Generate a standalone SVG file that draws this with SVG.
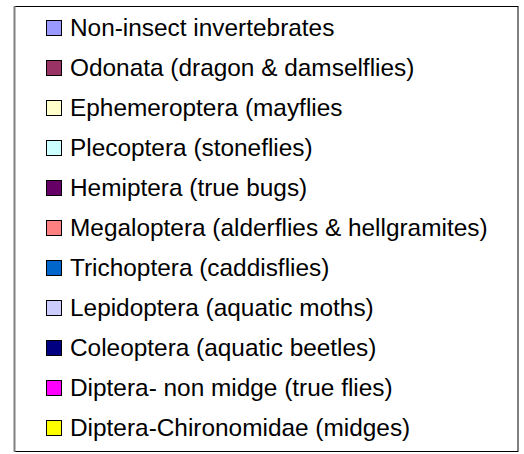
<svg xmlns="http://www.w3.org/2000/svg" width="524" height="454" viewBox="0 0 524 454">
<style>
.sw{stroke:#000;stroke-width:1}
.t{font-family:"Liberation Sans",Arial,sans-serif;font-size:24.4px;fill:#000}
</style>
<rect width="524" height="454" fill="#fff"/>
<rect x="14.5" y="6.5" width="503.5" height="445" fill="#fff" stroke="#000" stroke-width="1"/>
<line x1="14.5" y1="6" x2="14.5" y2="452" stroke="#808080" stroke-width="2"/>
<g id="n1"><rect class="sw" x="46.5" y="20.5" width="15" height="15" fill="#9999FF"/><text class="t" x="70" y="36">Non-insect invertebrates</text></g>
<g id="n2"><rect class="sw" x="46.5" y="60.5" width="15" height="15" fill="#993366"/><text class="t" x="70" y="76">Odonata (dragon &amp; damselflies)</text></g>
<g id="n3"><rect class="sw" x="46.5" y="100.5" width="15" height="15" fill="#FFFFCC"/><text class="t" x="70" y="116">Ephemeroptera (mayflies</text></g>
<g id="n4"><rect class="sw" x="46.5" y="140.5" width="15" height="15" fill="#CCFFFF"/><text class="t" x="70" y="156">Plecoptera (stoneflies)</text></g>
<g id="n5"><rect class="sw" x="46.5" y="180.5" width="15" height="15" fill="#660066"/><text class="t" x="70" y="196">Hemiptera (true bugs)</text></g>
<g id="n6"><rect class="sw" x="46.5" y="220.5" width="15" height="15" fill="#FF8080"/><text class="t" x="70" y="236">Megaloptera (alderflies &amp; hellgramites)</text></g>
<g id="n7"><rect class="sw" x="46.5" y="260.5" width="15" height="15" fill="#0066CC"/><text class="t" x="70" y="276">Trichoptera (caddisflies)</text></g>
<g id="n8"><rect class="sw" x="46.5" y="300.5" width="15" height="15" fill="#CCCCFF"/><text class="t" x="70" y="316">Lepidoptera (aquatic moths)</text></g>
<g id="n9"><rect class="sw" x="46.5" y="340.5" width="15" height="15" fill="#000080"/><text class="t" x="70" y="356">Coleoptera (aquatic beetles)</text></g>
<g id="n10"><rect class="sw" x="46.5" y="380.5" width="15" height="15" fill="#FF00FF"/><text class="t" x="70" y="396">Diptera- non midge (true flies)</text></g>
<g id="n11"><rect class="sw" x="46.5" y="420.5" width="15" height="15" fill="#FFFF00"/><text class="t" x="70" y="436">Diptera-Chironomidae (midges)</text></g>
<g id="connectors"/>
</svg>
